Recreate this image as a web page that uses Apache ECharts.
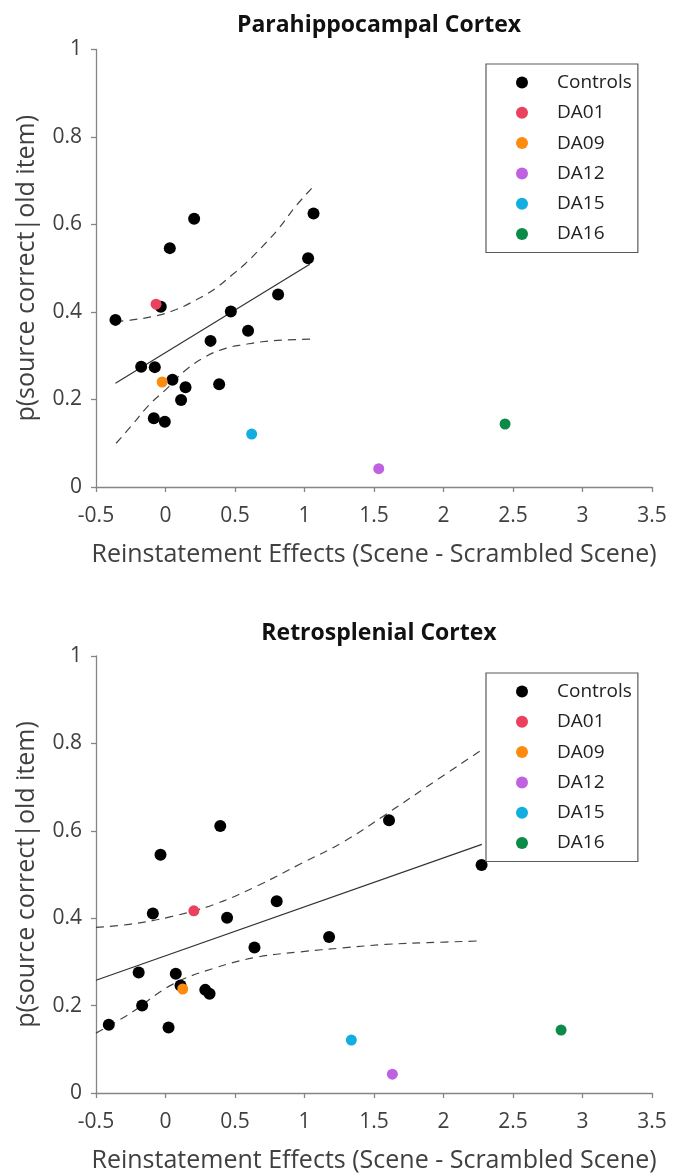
<!DOCTYPE html>
<html><head><meta charset="utf-8">
<script src="https://cdn.jsdelivr.net/npm/echarts@6/dist/echarts.min.js"></script>
<style>html,body{margin:0;padding:0;background:#fff}#c{width:673px;height:1174px}</style>
</head><body><div id="c"></div>
<script>
// ---------- data ----------
const panelTitles = ['Parahippocampal Cortex', 'Retrosplenial Cortex'];
const xAxisTitle = 'Reinstatement Effects (Scene - Scrambled Scene)';
const yAxisTitle = 'p(source correct|old item)';
const groupNames = ['Controls', 'DA01', 'DA09', 'DA12', 'DA15', 'DA16'];
const patientNames = ['DA01', 'DA09', 'DA12', 'DA15', 'DA16'];

// Parahippocampal cortex
const phcControls = [
  [-0.36, 0.382], [-0.175, 0.275], [-0.077, 0.274], [-0.034, 0.412], [0.031, 0.546],
  [0.206, 0.613], [0.05, 0.245], [0.144, 0.228], [0.112, 0.199], [-0.084, 0.157],
  [-0.005, 0.149], [0.324, 0.334], [0.47, 0.401], [0.594, 0.357], [0.386, 0.235],
  [0.81, 0.44], [1.026, 0.523], [1.065, 0.625]
];
const phcPatients = [[-0.068, 0.418], [-0.024, 0.24], [1.534, 0.042], [0.62, 0.121], [2.443, 0.144]];
const phcFit = [[-0.36, 0.237], [1.038, 0.509]];
const phcUpper = [
  [-0.36, 0.378], [-0.24, 0.382], [-0.072, 0.391], [0.072, 0.405], [0.216, 0.427],
  [0.36, 0.454], [0.48, 0.485], [0.576, 0.511], [0.695, 0.549], [0.815, 0.591],
  [0.935, 0.641], [1.067, 0.688]
];
const phcLower = [
  [-0.355, 0.1], [-0.24, 0.142], [-0.12, 0.187], [0.0, 0.222], [0.144, 0.267],
  [0.288, 0.298], [0.432, 0.317], [0.576, 0.326], [0.695, 0.332], [0.863, 0.336],
  [1.067, 0.338]
];

// Retrosplenial cortex
const rscControls = [
  [-0.408, 0.156], [-0.168, 0.2], [-0.193, 0.276], [-0.091, 0.411], [-0.036, 0.545],
  [0.022, 0.15], [0.074, 0.273], [0.108, 0.246], [0.286, 0.236], [0.317, 0.227],
  [0.394, 0.611], [0.443, 0.401], [0.64, 0.333], [0.8, 0.439], [1.177, 0.357],
  [1.608, 0.624], [2.274, 0.522]
];
const rscPatients = [[0.204, 0.417], [0.124, 0.238], [1.632, 0.043], [1.337, 0.121], [2.846, 0.144]];
const rscFit = [[-0.5, 0.258], [2.276, 0.569]];
const rscUpper = [
  [-0.5, 0.379], [-0.26, 0.386], [0.047, 0.404], [0.354, 0.432], [0.661, 0.474],
  [0.969, 0.524], [1.276, 0.574], [1.583, 0.637], [1.89, 0.703], [2.26, 0.782]
];
const rscLower = [
  [-0.5, 0.137], [-0.26, 0.181], [0.047, 0.248], [0.354, 0.286], [0.661, 0.311],
  [0.969, 0.323], [1.276, 0.332], [1.583, 0.34], [1.89, 0.344], [2.26, 0.348]
];

// ---------- styles ----------
const colors = { Controls: '#000000', DA01: '#e9415e', DA09: '#fd8b10', DA12: '#c061e2', DA15: '#12aedf', DA16: '#0c8a48' };
const FONT = 'Open Sans';
const TXT = '#404040';
const AX = '#858585';

const panels = [
  { title: panelTitles[0], controls: phcControls, patients: phcPatients, fit: phcFit, upper: phcUpper, lower: phcLower, top: 49.5, h: 437.5, titleTop: 9, legendTop: 64 },
  { title: panelTitles[1], controls: rscControls, patients: rscPatients, fit: rscFit, upper: rscUpper, lower: rscLower, top: 656, h: 439.5, titleTop: 617, legendTop: 673 }
];

const option = { animation: false, backgroundColor: '#fff', title: [], grid: [], xAxis: [], yAxis: [], legend: [], series: [] };

panels.forEach((p, i) => {
  option.title.push({
    text: p.title, left: 374, top: p.titleTop, textAlign: 'center',
    textStyle: { fontFamily: FONT, fontWeight: 'bold', fontSize: 23, color: '#111' }
  });
  option.grid.push({ left: 96, right: 21, top: p.top, height: p.h });
  option.xAxis.push({
    gridIndex: i, type: 'value', min: -0.5, max: 3.5, interval: 0.5,
    name: xAxisTitle, nameLocation: 'middle', nameGap: 55,
    nameTextStyle: { fontFamily: FONT, fontSize: 25, color: TXT },
    axisLine: { show: true, onZero: false, lineStyle: { color: AX, width: 1.3 } },
    axisTick: { show: true, length: 5, lineStyle: { color: AX, width: 1.3 } },
    axisLabel: { margin: 19, fontFamily: FONT, fontSize: 21, color: TXT },
    splitLine: { show: false }
  });
  option.yAxis.push({
    gridIndex: i, type: 'value', min: 0, max: 1, interval: 0.2,
    name: yAxisTitle, nameLocation: 'middle', nameGap: 57,
    nameTextStyle: { fontFamily: FONT, fontSize: 25, color: TXT },
    axisLine: { show: true, onZero: false, lineStyle: { color: AX, width: 1.3 } },
    axisTick: { show: true, length: 5, lineStyle: { color: AX, width: 1.3 } },
    axisLabel: { margin: 14, fontFamily: FONT, fontSize: 21, color: TXT },
    splitLine: { show: false }
  });
  option.legend.push({
    data: groupNames, orient: 'vertical', left: 486, top: p.legendTop,
    icon: 'circle', itemWidth: 12, itemHeight: 12, itemGap: 11.3,
    padding: [9, 6, 9, 30], borderColor: '#5a5a5a', borderWidth: 1.2,
    selectedMode: false,
    textStyle: { fontFamily: FONT, fontSize: 19, color: '#222', padding: [0, 0, 0, 24] }
  });
  const lineBase = { type: 'line', xAxisIndex: i, yAxisIndex: i, showSymbol: false, symbol: 'none', silent: true, z: 1 };
  option.series.push(Object.assign({}, lineBase, { name: 'fit' + i, data: p.fit, lineStyle: { color: '#333', width: 1.2 } }));
  option.series.push(Object.assign({}, lineBase, { name: 'upper' + i, data: p.upper, smooth: 0.4, lineStyle: { color: '#444', width: 1.2, type: [8, 6] } }));
  option.series.push(Object.assign({}, lineBase, { name: 'lower' + i, data: p.lower, smooth: 0.4, lineStyle: { color: '#444', width: 1.2, type: [8, 6] } }));
  option.series.push({
    type: 'scatter', name: 'Controls', xAxisIndex: i, yAxisIndex: i, data: p.controls,
    symbolSize: 12, itemStyle: { color: colors.Controls, opacity: 1 }, z: 3
  });
  patientNames.forEach((n, k) => {
    option.series.push({
      type: 'scatter', name: n, xAxisIndex: i, yAxisIndex: i, data: [p.patients[k]],
      symbolSize: 11, itemStyle: { color: colors[n], opacity: 1 }, z: 4
    });
  });
});

const chart = echarts.init(document.getElementById('c'), null, { renderer: 'canvas' });
chart.setOption(option);
</script></body></html>
